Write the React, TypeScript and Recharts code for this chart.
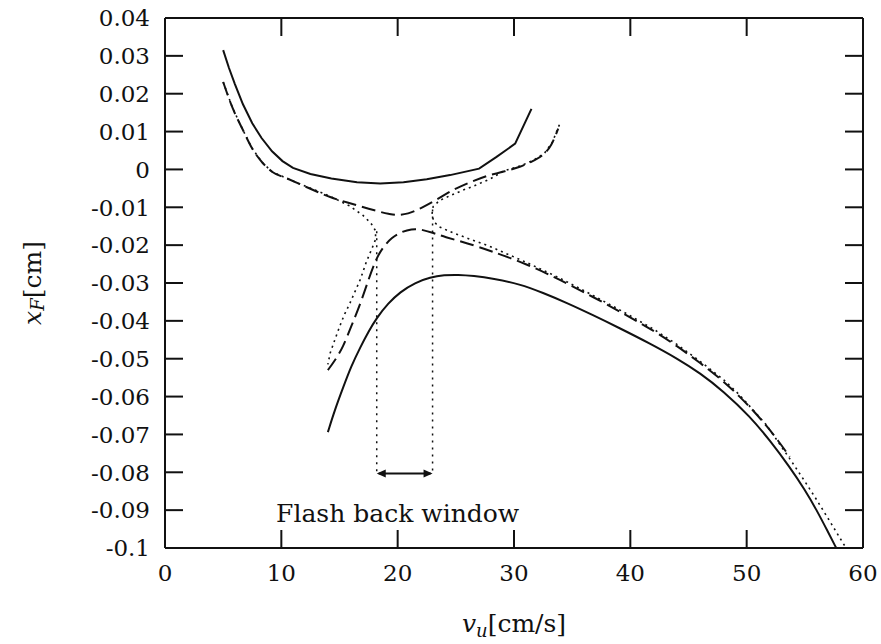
import { LineChart, Line, XAxis, YAxis, ReferenceLine, ReferenceDot, Label } from 'recharts'

type Pt = { vu: number; xF: number }
const toPts = (rows: number[][]): Pt[] => rows.map(([vu, xF]) => ({ vu, xF }))

// axis ticks
const xTicks = [0, 10, 20, 30, 40, 50, 60]
const xTickLabels = ['0', '10', '20', '30', '40', '50', '60']
const yTicks = [0.04, 0.03, 0.02, 0.01, 0, -0.01, -0.02, -0.03, -0.04, -0.05, -0.06, -0.07, -0.08, -0.09, -0.1]
const yTickLabels = ['0.04', '0.03', '0.02', '0.01', '0', '-0.01', '-0.02', '-0.03', '-0.04', '-0.05', '-0.06', '-0.07', '-0.08', '-0.09', '-0.1']

// solid: upper branch
const solidUpper = toPts([
  [5, 0.0315], [5.5, 0.0268], [6, 0.0226], [6.7, 0.0172], [7.5, 0.0122], [8.3, 0.0083],
  [9.2, 0.0048], [10.1, 0.0022], [11, 0.0004], [12.5, -0.0012], [14.3, -0.0024],
  [16.5, -0.0034], [18.5, -0.0037], [20.5, -0.0034], [22.5, -0.0026], [24.5, -0.0015],
  [27, 0.0002], [28.5, 0.0033], [30.1, 0.0068], [31.5, 0.016],
])

// solid: lower branch
const solidLower = toPts([
  [14, -0.0694], [14.6, -0.0635], [15.3, -0.0577], [16, -0.052], [16.8, -0.0469], [17.5, -0.0428],
  [18.2, -0.0392], [19.2, -0.0353], [20.2, -0.0324], [21.5, -0.0299], [22.8, -0.0285], [24, -0.0279],
  [25.2, -0.0278], [26.5, -0.0281], [28.2, -0.0288], [30.5, -0.0303], [32.5, -0.0326], [34.5, -0.0352],
  [36.8, -0.0385], [39, -0.0418], [41.7, -0.046], [44, -0.0499], [46, -0.0538], [48, -0.0586],
  [50.3, -0.0653], [52, -0.0716], [53.7, -0.0786], [55, -0.0846], [56, -0.0899], [57, -0.0958],
  [57.7, -0.1],
])

// dashed: upper branch
const dashedUpper = toPts([
  [5, 0.0231], [5.8, 0.0163], [6.7, 0.0104], [7.5, 0.0055], [8.4, 0.0017], [9.2, -0.0006],
  [10.5, -0.0024], [12.2, -0.0047], [14.2, -0.0073], [16.2, -0.0092], [18, -0.0108], [19.2, -0.0117],
  [20, -0.012], [20.9, -0.0116], [22, -0.0102], [23.2, -0.0082], [24.8, -0.0054], [26.3, -0.0033],
  [27.7, -0.0017], [29.2, -0.0005], [30.5, 0.0007], [31.6, 0.0022], [32.5, 0.0039], [33.2, 0.0065],
  [33.8, 0.0108],
])

// dashed: lower branch
const dashedLower = toPts([
  [14, -0.053], [14.6, -0.0505], [15.3, -0.047], [16, -0.0415], [16.8, -0.0355], [17.5, -0.029],
  [18.2, -0.0232], [18.8, -0.0203], [19.5, -0.018], [20.3, -0.0165], [21.2, -0.0157], [22, -0.0158],
  [23, -0.0167], [24, -0.0178], [26, -0.0195], [28, -0.0215], [31.1, -0.025], [34, -0.0292],
  [36.8, -0.0337], [39.5, -0.0382], [42, -0.0426], [44, -0.0466], [46, -0.0511], [48, -0.0559],
  [49.4, -0.06], [50.6, -0.0638], [51.7, -0.0677], [52.7, -0.0716], [53.7, -0.0759],
])

// dotted: left branch, turns back at the window edge
const dottedLeft = toPts([
  [5, 0.0231], [5.8, 0.0163], [6.7, 0.0104], [7.5, 0.0055], [8.4, 0.0017], [9.2, -0.0006],
  [10.5, -0.0024], [12.2, -0.0046], [14.2, -0.0071], [15.9, -0.0097], [17, -0.0121], [17.7, -0.0142],
  [18.1, -0.0162], [18.1, -0.0185], [17.8, -0.0208], [17.3, -0.0245], [16.8, -0.029], [16.3, -0.0325],
  [15.9, -0.0353], [15.4, -0.0385], [15, -0.0416], [14.6, -0.045], [14.2, -0.0485], [14, -0.0515],
])

// dotted: right branch, turns back at the window edge
const dottedRight = toPts([
  [33.9, 0.0118], [33.3, 0.0072], [32.6, 0.0042], [31.6, 0.0023], [30.5, 0.0009], [29.2, -0.0003],
  [27.9, -0.0026], [26.6, -0.0043], [25.6, -0.0055], [24.6, -0.0068], [23.6, -0.0082], [23.05, -0.0098],
  [22.95, -0.0118], [23.1, -0.0138], [23.6, -0.0152], [24.8, -0.0168], [26.2, -0.0184], [27.9, -0.0203],
  [31.1, -0.0246], [34, -0.0288], [36.8, -0.0333], [39.5, -0.0378], [42, -0.0422], [44, -0.0462],
  [46, -0.0507], [48, -0.0555], [49.4, -0.0596], [51.7, -0.0675], [53.7, -0.0764], [55, -0.0824],
  [56, -0.0872], [57.2, -0.0932], [58.3, -0.0988], [58.55, -0.1],
])

// flash back window
const windowLeft = 18.2
const windowRight = 23.0
const windowLeftTop = -0.0163
const windowRightTop = -0.0106
const windowY = -0.0803
const windowText = 'Flash back window'

const FONT = '"DejaVu Serif", serif'
const INK = '#111'
const TICK_LEN = 18

const BottomTick = ({ x, y, index }: any) => (
  <g>
    <line x1={x} y1={y} x2={x} y2={y - TICK_LEN} stroke={INK} strokeWidth={2} />
    <text x={x} y={y + 33} textAnchor="middle" fontFamily={FONT} fontSize={23} fill={INK}>
      {xTickLabels[index]}
    </text>
  </g>
)

const TopTick = ({ x, y }: any) => (
  <line x1={x} y1={y} x2={x} y2={y + TICK_LEN} stroke={INK} strokeWidth={2} />
)

const LeftTick = ({ x, y, index }: any) => (
  <g>
    <line x1={x} y1={y} x2={x + TICK_LEN} y2={y} stroke={INK} strokeWidth={2} />
    <text x={x - 15} y={y} dy="0.36em" textAnchor="end" fontFamily={FONT} fontSize={23} fill={INK}>
      {yTickLabels[index]}
    </text>
  </g>
)

const RightTick = ({ x, y }: any) => (
  <line x1={x} y1={y} x2={x - TICK_LEN} y2={y} stroke={INK} strokeWidth={2} />
)

// double headed arrow between the two window edges
const ArrowShape = ({ x1, y1, x2, y2 }: any) => {
  const h = 9
  const w = 4
  return (
    <g>
      <line x1={x1 + 2} y1={y1} x2={x2 - 2} y2={y2} stroke={INK} strokeWidth={2} />
      <path d={`M${x1},${y1} L${x1 + h},${y1 - w} L${x1 + h},${y1 + w} Z`} fill={INK} />
      <path d={`M${x2},${y2} L${x2 - h},${y2 - w} L${x2 - h},${y2 + w} Z`} fill={INK} />
    </g>
  )
}

export default function App() {
  return (
    <div style={{ position: 'absolute', left: 0, top: 0 }}>
      <LineChart width={881} height={644} margin={{ top: 17, right: 17, left: 0, bottom: 0 }}>
        <XAxis
          dataKey="vu"
          type="number"
          domain={[0, 60]}
          ticks={xTicks}
          interval={0}
          height={96}
          tickSize={0}
          tickMargin={0}
          axisLine={{ stroke: INK, strokeWidth: 2 }}
          tick={<BottomTick />}
          allowDataOverflow
        >
          <Label
            content={({ viewBox }: any) => (
              <text
                x={viewBox.x + viewBox.width / 2}
                y={viewBox.y + 84}
                textAnchor="middle"
                fontFamily={FONT}
                fontSize={25}
                fill={INK}
              >
                <tspan fontStyle="italic">v</tspan>
                <tspan fontStyle="italic" fontSize={18} dy={5}>u</tspan>
                <tspan dy={-5}>[cm/s]</tspan>
              </text>
            )}
          />
        </XAxis>
        <XAxis
          xAxisId="top"
          dataKey="vu"
          orientation="top"
          type="number"
          domain={[0, 60]}
          ticks={xTicks}
          interval={0}
          height={1}
          tickSize={0}
          tickMargin={0}
          axisLine={{ stroke: INK, strokeWidth: 2 }}
          tick={<TopTick />}
          allowDataOverflow
        />
        <YAxis
          type="number"
          domain={[-0.1, 0.04]}
          ticks={yTicks}
          interval={0}
          width={165}
          tickSize={0}
          tickMargin={0}
          axisLine={{ stroke: INK, strokeWidth: 2 }}
          tick={<LeftTick />}
          allowDataOverflow
        >
          <Label
            content={({ viewBox }: any) => {
              const cx = viewBox.x + 32
              const cy = viewBox.y + viewBox.height / 2
              return (
                <text
                  x={cx}
                  y={cy}
                  transform={`rotate(-90 ${cx} ${cy})`}
                  textAnchor="middle"
                  dominantBaseline="central"
                  fontFamily={FONT}
                  fontSize={25}
                  fill={INK}
                >
                  <tspan fontStyle="italic">x</tspan>
                  <tspan fontStyle="italic" fontSize={18} dy={5}>F</tspan>
                  <tspan dy={-5}>[cm]</tspan>
                </text>
              )
            }}
          />
        </YAxis>
        <YAxis
          yAxisId="right"
          orientation="right"
          type="number"
          domain={[-0.1, 0.04]}
          ticks={yTicks}
          interval={0}
          width={1}
          tickSize={0}
          tickMargin={0}
          axisLine={{ stroke: INK, strokeWidth: 2 }}
          tick={<RightTick />}
          allowDataOverflow
        />

        <Line data={solidUpper} dataKey="xF" type="linear" stroke={INK} strokeWidth={2} dot={false} activeDot={false} isAnimationActive={false} />
        <Line data={solidLower} dataKey="xF" type="basis" stroke={INK} strokeWidth={2} dot={false} activeDot={false} isAnimationActive={false} />
        <Line data={dashedUpper} dataKey="xF" type="monotone" stroke={INK} strokeWidth={2} strokeDasharray="14 6" dot={false} activeDot={false} isAnimationActive={false} />
        <Line data={dashedLower} dataKey="xF" type="basis" stroke={INK} strokeWidth={2} strokeDasharray="14 6" dot={false} activeDot={false} isAnimationActive={false} />
        <Line data={dottedLeft} dataKey="xF" type="linear" stroke={INK} strokeWidth={1.6} strokeDasharray="2 4" dot={false} activeDot={false} isAnimationActive={false} />
        <Line data={dottedRight} dataKey="xF" type="linear" stroke={INK} strokeWidth={1.6} strokeDasharray="2 4" dot={false} activeDot={false} isAnimationActive={false} />

        <ReferenceLine
          segment={[{ x: windowLeft, y: windowLeftTop }, { x: windowLeft, y: windowY }]}
          stroke={INK}
          strokeWidth={1.5}
          strokeDasharray="2 5"
        />
        <ReferenceLine
          segment={[{ x: windowRight, y: windowRightTop }, { x: windowRight, y: windowY }]}
          stroke={INK}
          strokeWidth={1.5}
          strokeDasharray="2 5"
        />
        <ReferenceLine
          segment={[{ x: windowLeft, y: windowY }, { x: windowRight, y: windowY }]}
          shape={<ArrowShape />}
        />
        <ReferenceDot
          x={20}
          y={-0.0931}
          r={0}
          shape={({ cx, cy }: any) => (
            <text x={cx} y={cy} textAnchor="middle" fontFamily={FONT} fontSize={25} fill={INK}>
              {windowText}
            </text>
          )}
        />
      </LineChart>
    </div>
  )
}
